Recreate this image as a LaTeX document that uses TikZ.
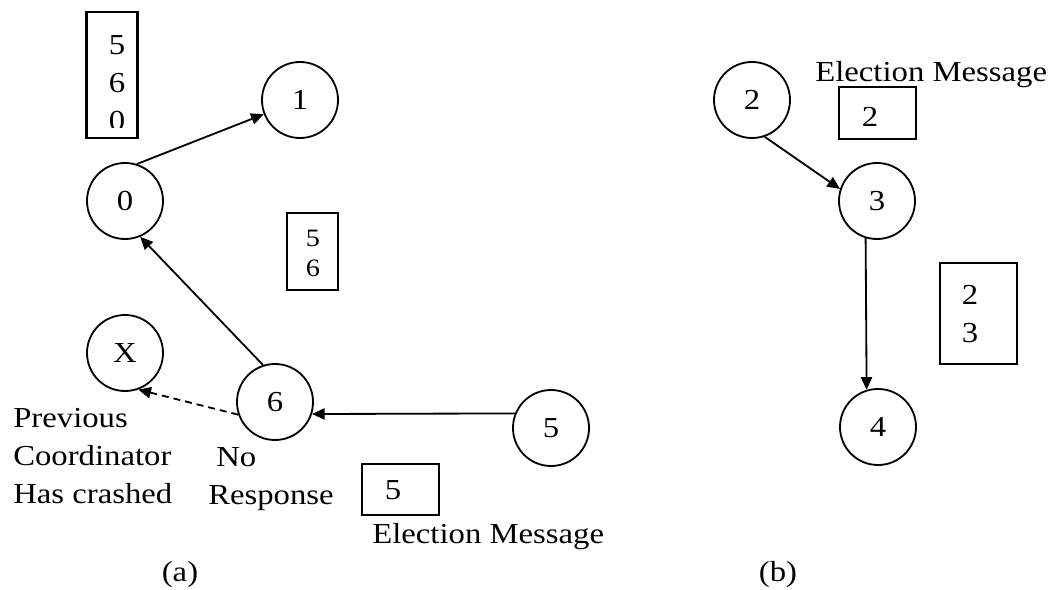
\documentclass[tikz,border=0pt]{standalone}
\usepackage{fontspec}
\setmainfont[FakeStretch=1.13]{Liberation Serif}
\usetikzlibrary{arrows.meta}
\tikzstyle{proc} = [circle, draw=black, line width=1.3pt, minimum size=1.9cm, inner sep=0pt, font=\fontsize{20.6}{27}\selectfont]
\tikzstyle{msg} = [rectangle, draw=black, line width=1.7pt, inner sep=0pt]
\tikzstyle{txt} = [inner sep=0pt, font=\fontsize{20.6}{27}\selectfont]
\tikzstyle{arrow} = [line width=1.3pt, -{Triangle[length=9pt,width=8pt]}]
\tikzstyle{noreply} = [arrow, dash pattern=on 5pt off 3.5pt]

\begin{document}
\begin{tikzpicture}[x=0.025cm, y=-0.025cm]
\useasboundingbox (0,0) rectangle (1054,590);

% (a) processes
\node[proc] (p0) at (125,201) {0};
\node[proc] (p1) at (300,100) {1};
\node[proc] (pX) at (125,353) {X};
\node[proc] (p6) at (275,402) {6};
\node[proc] (p5) at (551,428) {5};

% (a) message boxes
\node[msg, minimum width=1.275cm, minimum height=3.15cm] (b560) at (112,75) {};
\begin{scope}
\clip (87,12) rectangle (137,128);
\node[txt, align=center] (t560) at (117,83) {5\\6\\0};
\end{scope}
\node[msg, minimum width=1.275cm, minimum height=1.925cm] (b56) at (312.5,251.5) {};
\node[txt, align=center, font=\fontsize{17.8}{21.3}\selectfont] (t56) at (313,253) {5\\6};
\node[msg, minimum width=1.925cm, minimum height=1.275cm] (b5) at (400.5,489.5) {};
\node[txt] (t5) at (393,490) {5};

% (a) labels
\node[txt, align=left, anchor=north west] (crashed) at (13,408) {Previous\\Coordinator\\Has crashed};
\node[txt, align=left, anchor=north west] (noresp) at (208,447) {\hspace{0.2cm}No\\Response};
\node[txt, anchor=base west] (elecA) at (372,543) {Election Message};
\node[txt] (capA) at (180,575) {(a)};

% (a) messages
\draw[arrow] (p0.72) -- (p1);
\draw[arrow] (p6.108) -- (p0.-67);
\draw[arrow] (p5.158) -- (p6.-18);
\draw[noreply] (p6.199) -- (pX.-70);

% (b) processes
\node[proc] (p2) at (752,100) {2};
\node[proc] (p3) at (877,201) {3};
\node[proc] (p4) at (878,427) {4};

% (b) message boxes
\node[msg, minimum width=1.925cm, minimum height=1.3cm] (b2) at (877.5,113) {};
\node[txt] (t2) at (870,117) {2};
\node[msg, minimum width=1.925cm, minimum height=2.525cm] (b23) at (978.5,313.5) {};
\node[txt, align=center] (t23) at (970,314) {2\\3};

% (b) labels
\node[txt, anchor=base west] (elecB) at (815,82) {Election Message};
\node[txt] (capB) at (778,575) {(b)};

% (b) messages
\draw[arrow] (p2.-71) -- (p3.162);
\draw[arrow] (p3.253) -- (p4.107);

\end{tikzpicture}
\end{document}
